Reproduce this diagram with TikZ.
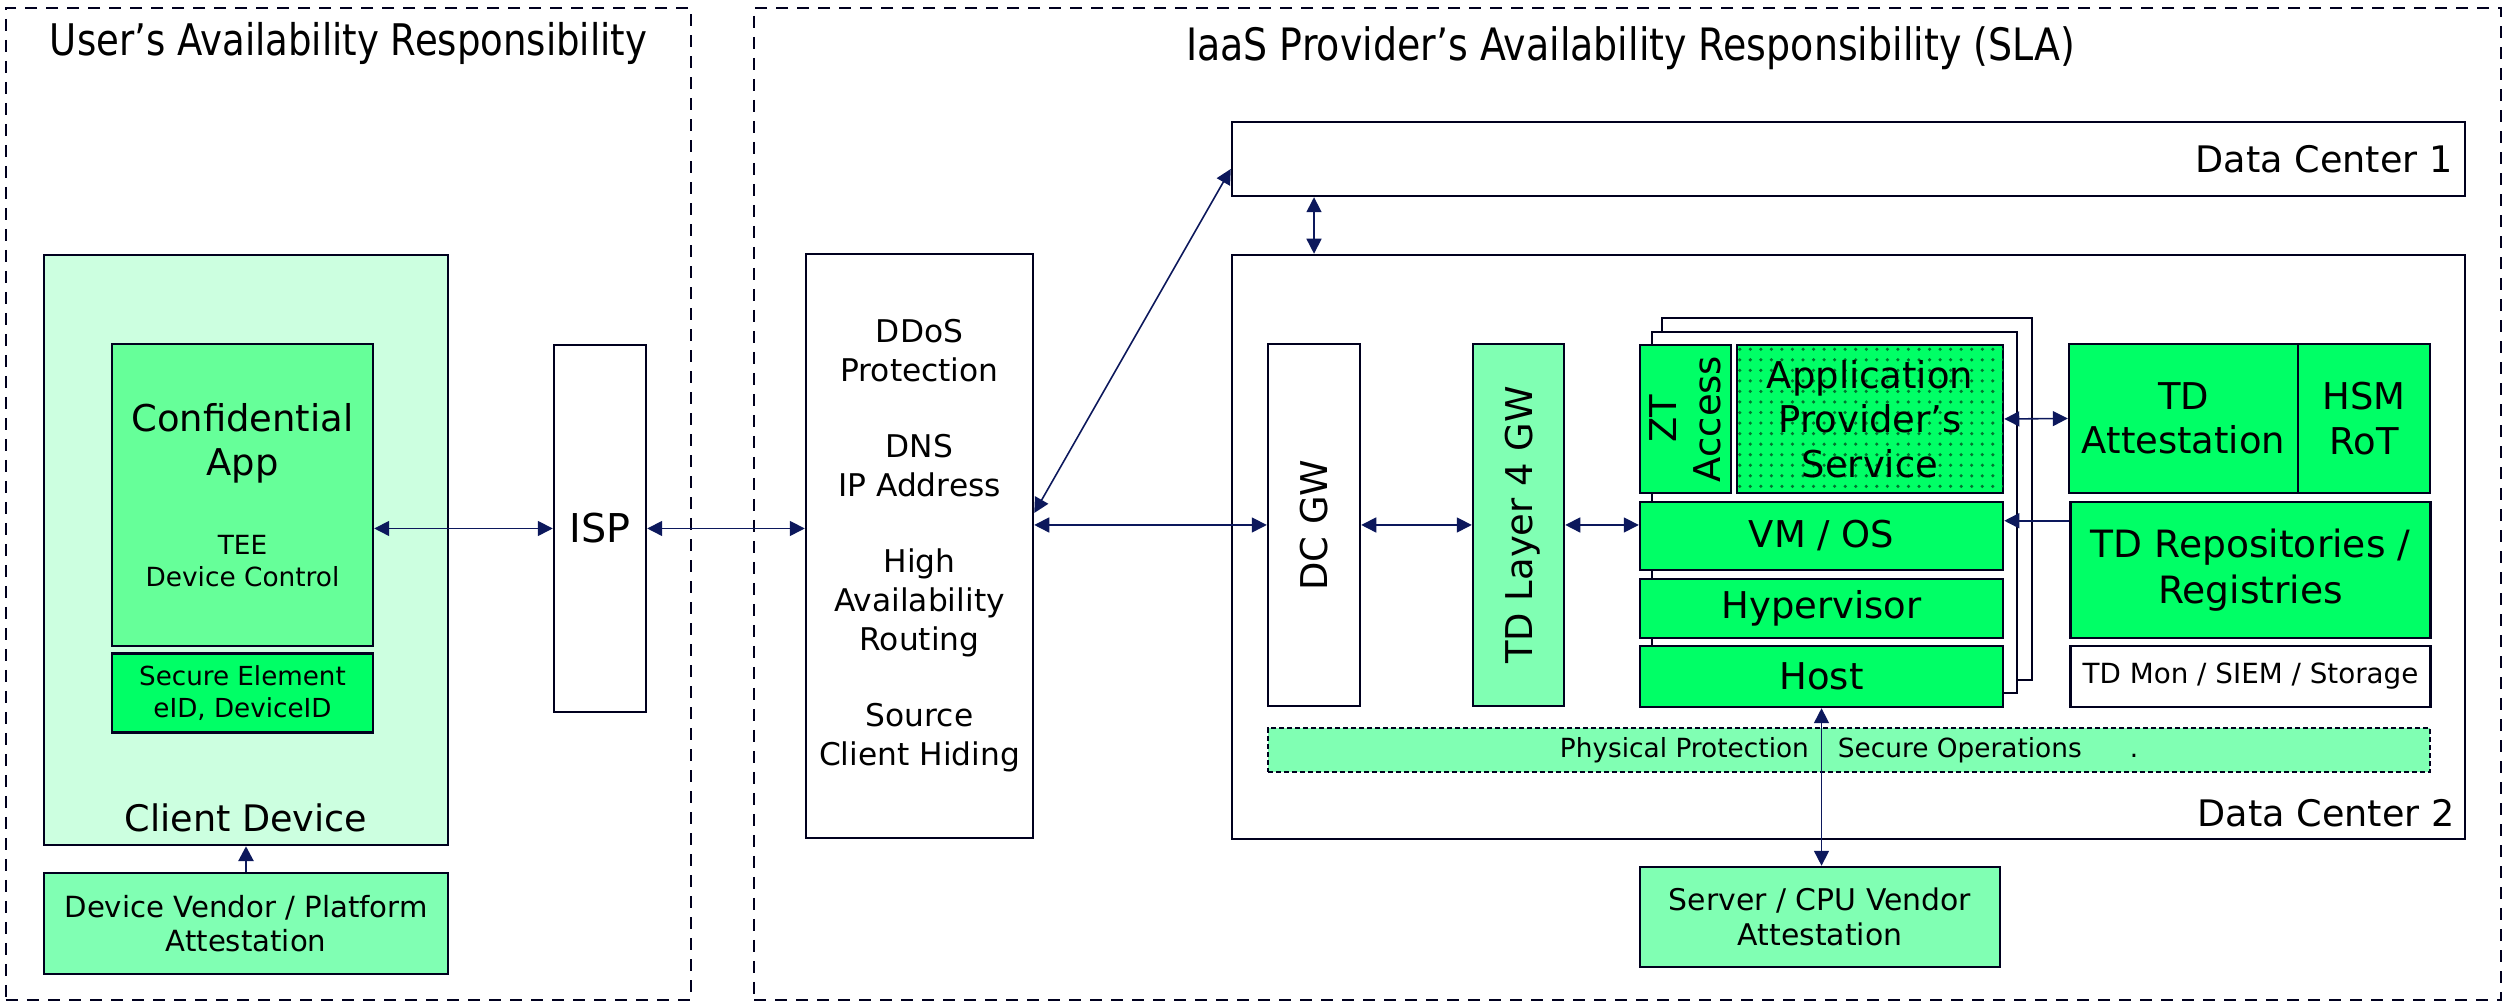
\documentclass[tikz,border=0pt]{standalone}
\usepackage{fontspec}
\setmainfont{DejaVu Sans}
\newfontfamily\titlefont[FakeStretch=0.85]{DejaVu Sans}
\usetikzlibrary{positioning, arrows.meta, patterns}

\definecolor{linenavy}{RGB}{0,0,30}
\definecolor{arrownavy}{RGB}{12,24,92}
\definecolor{mint}{RGB}{204,255,224}
\definecolor{midgreen}{RGB}{102,255,153}
\definecolor{hotgreen}{RGB}{0,255,102}
\definecolor{palegreen}{RGB}{128,255,179}
\newcommand{\txtsize}[2]{\fontsize{#1}{#2}\selectfont}

\begin{document}
\begin{tikzpicture}[
		zone/.style={draw=linenavy, line width=0.7pt, dash pattern=on 1.2mm off 0.9mm},
		box/.style={draw=linenavy, rectangle, line width=0.7pt, fill=white, inner sep=0pt,
			align=center, font=\txtsize{10.5}{12.6}},
		frame/.style={draw=linenavy, rectangle, line width=0.7pt, fill=white},
		band/.style={draw=linenavy, rectangle, line width=0.4pt, fill=palegreen,
			dash pattern=on 0.5mm off 0.3mm, inner sep=0pt, font=\txtsize{7.5}{9}},
		lbl/.style={inner sep=0pt, font=\txtsize{10.4}{12.5}},
		uptxt/.style={inner sep=0pt, rotate=90, align=center, font=\txtsize{10.5}{12.6}},
		ttl/.style={inner sep=0pt, anchor=base},
		arrow/.style={-{Triangle[length=1.5mm, width=1.5mm]}, draw=arrownavy, fill=arrownavy, line width=0.45pt},
		biarrow/.style={{Triangle[length=1.5mm, width=1.5mm]}-{Triangle[length=1.5mm, width=1.5mm]},
			draw=arrownavy, fill=arrownavy, line width=0.45pt},
		]
		\useasboundingbox (0,0) rectangle (25.04,10.03);
		
		% responsibility zones
		\node[zone, minimum width=6.85cm, minimum height=9.92cm] (userzone) at (3.485,4.99) {};
		\node[zone, minimum width=17.47cm, minimum height=9.92cm] (iaaszone) at (16.275,4.99) {};
		\node[ttl, font=\titlefont\txtsize{12.4}{14}] (userttl) at ([yshift=-4.9mm]userzone.north)
			{User’s Availability Responsibility};
		\node[ttl, font=\titlefont\txtsize{12.7}{14}] (iaasttl) at ([xshift=0.3mm,yshift=-5.4mm]iaaszone.north)
			{IaaS Provider’s Availability Responsibility (SLA)};
		
		% client side
		\node[box, fill=mint, minimum width=4.04cm, minimum height=5.90cm] (clientdev) at (2.46,4.53) {};
		\node[box, fill=midgreen, minimum width=2.61cm, minimum height=3.02cm, font=\txtsize{10.5}{12.5}] (confapp)
			at (2.425,5.08) {Confidential\\App\\[9.9pt]\txtsize{7.5}{9.1}TEE\\[-3.4pt]\txtsize{7.5}{9.1}Device Control};
		\node[box, fill=hotgreen, minimum width=2.61cm, minimum height=0.79cm, font=\txtsize{7.45}{9.1}] (secelem)
			at (2.425,3.10) {Secure Element\\eID, DeviceID};
		\node[lbl, anchor=base] (clientlbl) at ([yshift=1.5mm]clientdev.south) {Client Device};
		\node[box, fill=palegreen, minimum width=4.04cm, minimum height=1.01cm, font=\txtsize{8.3}{9.7}] (devvendor)
			at (2.46,0.795) {Device Vendor / Platform\\Attestation};
		\node[box, minimum width=0.92cm, minimum height=3.67cm, font=\txtsize{11.3}{13}] (isp) at (6.00,4.745) {ISP};
		
		% network edge
		\node[box, minimum width=2.27cm, minimum height=5.84cm, font=\txtsize{8.9}{11.1}] (ddos) at (9.195,4.57)
			{DDoS\\Protection\\[10.5pt]DNS\\IP Address\\[10.5pt]High\\Availability\\Routing\\[10.5pt]Source\\Client Hiding};
		
		% data centers
		\node[box, minimum width=12.33cm, minimum height=0.74cm] (dc1) at (18.485,8.44) {};
		\node[lbl, anchor=east] (dc1lbl) at ([xshift=-1.3mm]dc1.east) {Data Center 1};
		\node[box, minimum width=12.33cm, minimum height=5.84cm] (dc2) at (18.485,4.56) {};
		\node[lbl, anchor=base east] (dc2lbl) at ([xshift=-1.1mm,yshift=1.4mm]dc2.south east) {Data Center 2};
		
		\node[box, minimum width=0.92cm, minimum height=3.62cm] (dcgw) at (13.14,4.78) {};
		\node[uptxt] (dcgwtxt) at (dcgw.center) {DC GW};
		\node[box, fill=palegreen, minimum width=0.91cm, minimum height=3.62cm] (tdgw) at (15.185,4.78) {};
		\node[uptxt] (tdgwtxt) at ([xshift=0.4mm]tdgw.center) {TD Layer 4 GW};
		
		% VM stack with two copies behind
		\node[frame, minimum width=3.70cm, minimum height=3.62cm] (vmback) at (18.47,5.04) {};
		\node[frame, minimum width=3.65cm, minimum height=3.61cm] (vmmid) at (18.345,4.905) {};
		\node[box, fill=hotgreen, minimum width=0.91cm, minimum height=1.48cm] (ztaccess) at (16.855,5.84) {};
		\node[uptxt] (zttxt) at (ztaccess.center) {ZT\\Access};
		\node[box, fill=hotgreen, postaction={pattern=dots, pattern color=black!55!hotgreen},
			minimum width=2.66cm, minimum height=1.48cm] (appsvc) at (18.70,5.84)
			{Application\\Provider’s\\Service};
		\node[box, fill=hotgreen, minimum width=3.63cm, minimum height=0.68cm] (vmos) at (18.215,4.67) {VM / OS};
		\node[box, fill=hotgreen, minimum width=3.63cm, minimum height=0.59cm] (hyperv) at (18.215,3.945) {Hypervisor};
		\node[box, fill=hotgreen, minimum width=3.63cm, minimum height=0.61cm] (host) at (18.215,3.265) {Host};
		
		% trust services
		\node[box, fill=hotgreen, minimum width=2.29cm, minimum height=1.49cm] (tdatt) at (21.835,5.845) {TD\\Attestation};
		\node[box, fill=hotgreen, minimum width=1.32cm, minimum height=1.49cm] (hsm) at (23.64,5.845) {HSM\\RoT};
		\node[box, fill=hotgreen, minimum width=3.60cm, minimum height=1.36cm, font=\txtsize{10.7}{12.9}] (tdrepo)
			at (22.505,4.33) {TD Repositories /\\Registries};
		\node[box, minimum width=3.60cm, minimum height=0.61cm, font=\txtsize{7.9}{9}] (tdmon) at (22.505,3.265)
			{TD Mon / SIEM / Storage};
		
		\node[band, minimum width=11.62cm, minimum height=0.44cm] (physband) at (18.49,2.53)
			{Physical Protection\hspace{2.9mm}Secure Operations\hspace{4.8mm}.};
		
		\node[box, fill=palegreen, minimum width=3.60cm, minimum height=1.00cm, font=\txtsize{8.5}{10}] (cpuvendor)
			at (18.20,0.86) {Server / CPU Vendor\\Attestation};
		
		% connections
		\draw[biarrow] (confapp.east |- isp.west) -- (isp.west);
		\draw[biarrow] (isp.east) -- (isp.east -| ddos.west);
		\draw[biarrow] (ddos.east |- dcgw.west) -- (dcgw.west);
		\draw[biarrow] ([yshift=3.3mm]ddos.east) -- ([yshift=-1mm]dc1.west);
		\draw[biarrow] (dcgw |- dc1.south) -- (dcgw |- dc2.north);
		\draw[biarrow] (dcgw.east) -- (tdgw.west);
		\draw[biarrow] (tdgw.east) -- (tdgw.east -| vmos.west);
		\draw[biarrow] (appsvc.east) -- (tdatt.west);
		\coordinate (repoin) at ([yshift=-2mm]vmos.north east);
		\draw[arrow] (repoin -| tdrepo.west) -- (repoin);
		\draw[biarrow] (host.south) -- (host.south |- cpuvendor.north);
		\draw[arrow, line width=0.8pt] (devvendor.north) -- (clientdev.south);
		
	\end{tikzpicture}
\end{document}
